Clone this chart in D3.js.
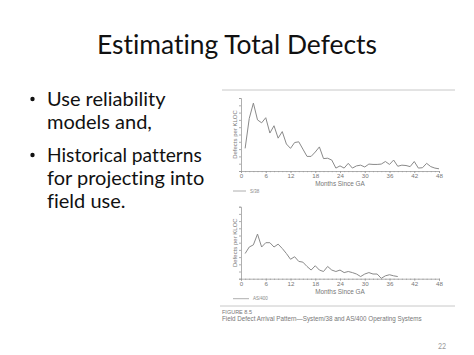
<!DOCTYPE html>
<html><head><meta charset="utf-8">
<script src="https://cdn.jsdelivr.net/npm/d3@7"></script>
<style>body{margin:0;background:#fff}svg{display:block}text{font-variant-ligatures:none;font-feature-settings:"liga" 0}</style>
</head><body>
<svg id="c" width="474" height="355"></svg>
<script>
// ---- data ----
const title = "Estimating Total Defects";
const bullets = [["Use reliability","models and,"],["Historical patterns","for projecting into","field use."]];
const months = d3.range(1, 49);
const s38 = [3.1,7.2,9.3,7.0,6.6,7.3,5.2,6.2,4.5,5.4,3.7,3.1,3.9,4.0,3.0,2.0,2.0,2.6,3.3,1.7,1.75,1.5,0.4,0.7,0.4,1.05,0.4,0.7,0.8,0.55,0.95,0.9,0.9,0.95,1.3,0.9,1.5,0.65,0.8,0.75,0.6,1.3,0.4,0.45,1.05,0.6,0.4,0.3];
const monthsAS = d3.range(1, 39);
const as400 = [3.5,4.4,4.7,6.2,4.4,5.0,5.0,4.4,4.8,4.2,3.5,2.7,3.05,2.4,2.3,1.7,1.2,1.8,1.2,1.0,1.7,1.2,1.0,1.2,0.85,1.0,0.85,0.65,0.3,0.65,0.85,0.65,0.65,0.05,0.4,0.55,0.4,0.3];
const xTicks = [0,6,12,18,24,30,36,42,48];
const xLabel = "Months Since GA";
const yLabel = "Defects per KLOC";
const legends = ["S/38","AS/400"];
const figNum = "FIGURE 8.5";
const caption = "Field Defect Arrival Pattern\u2014System/38 and AS/400 Operating Systems";
const pageNum = "22";

const svg = d3.select("#c");
const slideFont = "Lato, 'Open Sans', sans-serif";
const figFont = "'Liberation Sans', Arial, sans-serif";

function fitText(sel, target){
  const w = sel.node().getComputedTextLength();
  const fs = parseFloat(sel.attr("font-size"));
  sel.attr("font-size", fs * target / w);
}

// title
const t = svg.append("text").attr("x",237).attr("y",54).attr("text-anchor","middle")
  .attr("font-family",slideFont).attr("font-size",30).attr("fill","#111").text(title);
fitText(t, 280);

// bullets
let ly = 106;
const bfs = 20;
bullets.forEach((b,bi)=>{
  svg.append("circle").attr("cx",32.5).attr("cy",ly-7).attr("r",2.2).attr("fill","#111");
  b.forEach((line,li)=>{
    const tx = svg.append("text").attr("x",47).attr("y",ly).attr("font-family",slideFont)
      .attr("font-size",bfs).attr("fill","#111").text(line);
    if(line==="Historical patterns") fitText(tx,155);
    ly += 23;
  });
  ly += 10;
});

// figure separators
svg.append("line").attr("x1",222).attr("x2",455).attr("y1",90).attr("y2",90).attr("stroke","#c8c8c8").attr("stroke-width",1);
svg.append("line").attr("x1",220).attr("x2",455).attr("y1",306).attr("y2",306).attr("stroke","#c8c8c8").attr("stroke-width",1);

const x = d3.scaleLinear().domain([0,48]).range([241,439]);

function panel(top, bottom, mx, vals, legend, legLen){
  const y = d3.scaleLinear().domain([0,10]).range([bottom, top]);
  const g = svg.append("g");
  const ax = g.append("g").attr("transform",`translate(0,${bottom})`)
    .call(d3.axisBottom(x).tickValues(xTicks).tickSize(2).tickPadding(1).tickFormat(d3.format("d")));
  g.append("g").attr("transform",`translate(0,${bottom})`)
    .call(d3.axisBottom(x).tickValues(d3.range(0,49,1)).tickSize(1.2).tickFormat(""))
    .call(s=>s.select(".domain").remove());
  g.append("g").attr("transform",`translate(${x(0)},0)`)
    .call(d3.axisLeft(y).ticks(10).tickSize(2).tickFormat(""));
  g.selectAll(".domain,.tick line").attr("stroke","#9a9a9a").attr("stroke-width",0.8);
  ax.selectAll("text").attr("font-family",figFont).attr("font-size",6.2).attr("fill","#777");
  g.append("text").attr("x",340).attr("y",bottom+15).attr("text-anchor","middle")
    .attr("font-family",figFont).attr("font-size",6.4).attr("fill","#777").text(xLabel);
  g.append("text").attr("transform",`translate(236.5,${(top+bottom)/2}) rotate(-90)`).attr("text-anchor","middle")
    .attr("font-family",figFont).attr("font-size",6).attr("fill","#777").text(yLabel);
  const line = d3.line().x((d,i)=>x(mx[i])).y(d=>y(d));
  g.append("path").datum(vals).attr("d",line).attr("fill","none").attr("stroke","#8a8a8a").attr("stroke-width",1);
  const ly2 = bottom+20;
  g.append("line").attr("x1",233).attr("x2",233+legLen).attr("y1",ly2).attr("y2",ly2).attr("stroke","#999").attr("stroke-width",0.8);
  g.append("text").attr("x",237+legLen).attr("y",ly2+1.6).attr("font-family",figFont).attr("font-size",4.5).attr("fill","#888").text(legend);
}
panel(98, 171, months, s38, legends[0], 13);
panel(206.7, 278.7, monthsAS, as400, legends[1], 16);

svg.append("text").attr("x",222).attr("y",313.5).attr("font-family",figFont).attr("font-size",5.5).attr("fill","#777").text(figNum);
const cap = svg.append("text").attr("x",222).attr("y",320.5).attr("font-family",figFont).attr("font-size",6).attr("fill","#777").text(caption);
fitText(cap, 200);

svg.append("text").attr("x",446).attr("y",349).attr("text-anchor","end").attr("font-family",slideFont).attr("font-size",7).attr("fill","#999").text(pageNum);
</script>
</body></html>
